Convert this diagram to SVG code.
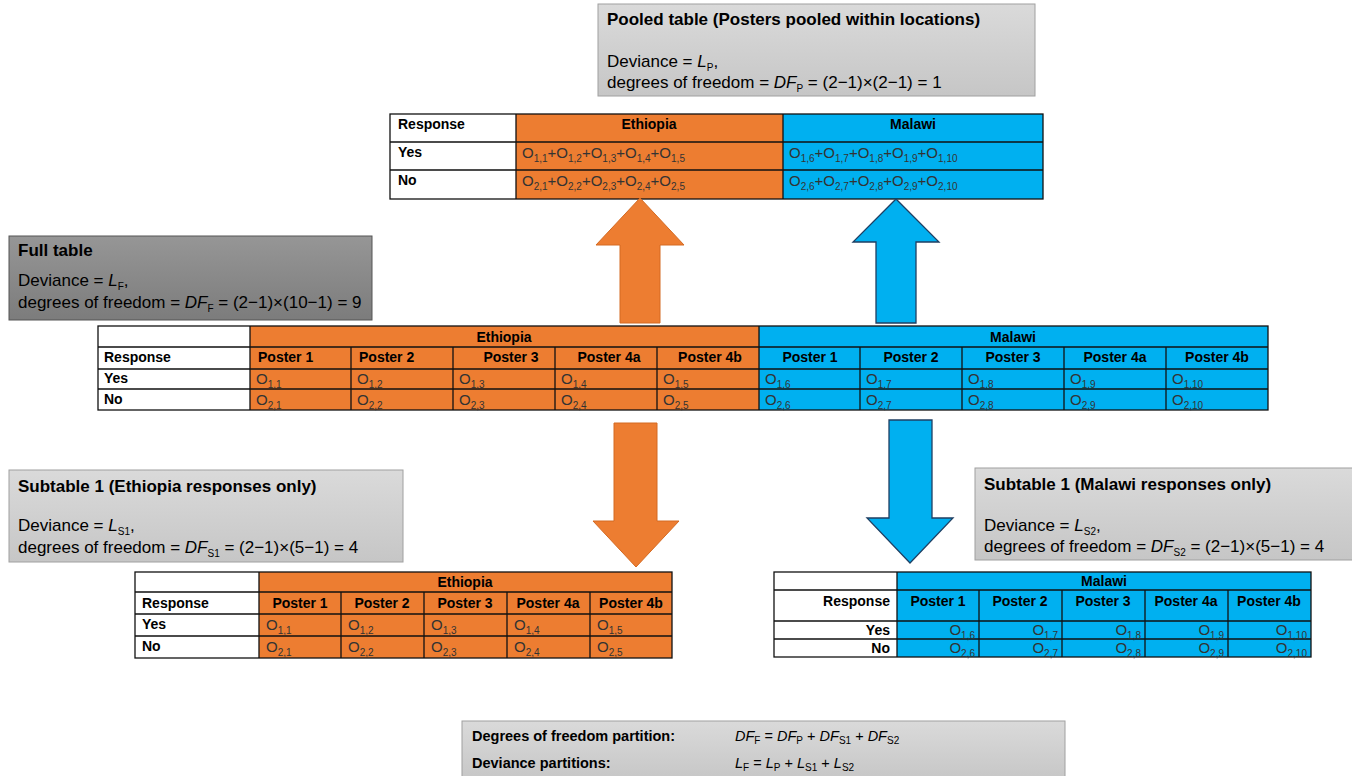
<svg xmlns="http://www.w3.org/2000/svg" width="1352" height="776" viewBox="0 0 1352 776">
<defs>
<linearGradient id="gLight" x1="0" y1="0" x2="0" y2="1"><stop offset="0" stop-color="#dadada"/><stop offset="1" stop-color="#c6c6c6"/></linearGradient>
<linearGradient id="gDark" x1="0" y1="0" x2="0" y2="1"><stop offset="0" stop-color="#969696"/><stop offset="1" stop-color="#7c7c7c"/></linearGradient>
</defs>
<style>
text{font-family:"Liberation Sans",Arial,sans-serif;fill:#000}
.t{font-size:17px;font-weight:bold}
.d{font-size:17px}
.h{font-size:14px;font-weight:bold}
.o{font-size:15px;fill:#333}
.s{font-size:10px}
.i{font-style:italic}
.c{text-anchor:middle}
.r{text-anchor:end}
.box{stroke:#a0a0a0;stroke-width:1}
.or{fill:#ED7D31}
.bl{fill:#00B0F0}
.wh{fill:#fff}
.ln{stroke:#111;stroke-width:1.3;fill:none}
.b{font-size:14.5px;font-weight:bold}
.bi{font-size:14.5px;font-style:italic}
</style>

<g id="pooled-box">
<rect x="598" y="4" width="437" height="92" fill="url(#gLight)" class="box"/>
<text class="t" x="607" y="25">Pooled table (Posters pooled within locations)</text>
<text class="d" x="607" y="67">Deviance = <tspan class="i">L</tspan><tspan class="s" dy="4">P</tspan><tspan dy="-4">,</tspan></text>
<text class="d" x="607" y="88">degrees of freedom = <tspan class="i">DF</tspan><tspan class="s" dy="4">P</tspan><tspan dy="-4"> = (2−1)×(2−1) = 1</tspan></text>
</g>

<g id="pooled-table">
<rect x="390" y="114" width="126" height="85" class="wh"/>
<rect x="516" y="114" width="267" height="85" class="or"/>
<rect x="783" y="114" width="260" height="85" class="bl"/>
<rect x="390" y="114" width="653" height="85" class="ln"/>
<path class="ln" d="M390 142H1043M390 170H1043M516 114V199M783 114V199"/>
<text class="h" x="398" y="129">Response</text>
<text class="h c" x="649" y="129">Ethiopia</text>
<text class="h c" x="913" y="129">Malawi</text>
<text class="h" x="398" y="157">Yes</text>
<text class="h" x="398" y="185">No</text>
<text class="o" x="522" y="158">O<tspan class="s" dy="4">1,1</tspan><tspan dy="-4">+O</tspan><tspan class="s" dy="4">1,2</tspan><tspan dy="-4">+O</tspan><tspan class="s" dy="4">1,3</tspan><tspan dy="-4">+O</tspan><tspan class="s" dy="4">1,4</tspan><tspan dy="-4">+O</tspan><tspan class="s" dy="4">1,5</tspan></text>
<text class="o" x="522" y="186">O<tspan class="s" dy="4">2,1</tspan><tspan dy="-4">+O</tspan><tspan class="s" dy="4">2,2</tspan><tspan dy="-4">+O</tspan><tspan class="s" dy="4">2,3</tspan><tspan dy="-4">+O</tspan><tspan class="s" dy="4">2,4</tspan><tspan dy="-4">+O</tspan><tspan class="s" dy="4">2,5</tspan></text>
<text class="o" x="789" y="158">O<tspan class="s" dy="4">1,6</tspan><tspan dy="-4">+O</tspan><tspan class="s" dy="4">1,7</tspan><tspan dy="-4">+O</tspan><tspan class="s" dy="4">1,8</tspan><tspan dy="-4">+O</tspan><tspan class="s" dy="4">1,9</tspan><tspan dy="-4">+O</tspan><tspan class="s" dy="4">1,10</tspan></text>
<text class="o" x="789" y="186">O<tspan class="s" dy="4">2,6</tspan><tspan dy="-4">+O</tspan><tspan class="s" dy="4">2,7</tspan><tspan dy="-4">+O</tspan><tspan class="s" dy="4">2,8</tspan><tspan dy="-4">+O</tspan><tspan class="s" dy="4">2,9</tspan><tspan dy="-4">+O</tspan><tspan class="s" dy="4">2,10</tspan></text>
</g>

<g id="full-box">
<rect x="9" y="236" width="363" height="84" fill="url(#gDark)" stroke="#555" stroke-width="1"/>
<text class="t" x="18" y="256">Full table</text>
<text class="d" x="18" y="286">Deviance = <tspan class="i">L</tspan><tspan class="s" dy="4">F</tspan><tspan dy="-4">,</tspan></text>
<text class="d" x="18" y="308">degrees of freedom = <tspan class="i">DF</tspan><tspan class="s" dy="4">F</tspan><tspan dy="-4"> = (2−1)×(10−1) = 9</tspan></text>
</g>

<g id="full-table">
<rect x="98" y="326" width="152" height="84" class="wh"/>
<rect x="250" y="326" width="509" height="84" class="or"/>
<rect x="759" y="326" width="509" height="84" class="bl"/>
<rect x="98" y="326" width="1170" height="84" class="ln"/>
<path class="ln" d="M98 347H1268M98 369H1268M98 389H1268M250 326V410M759 326V410M351 347V410M453 347V410M555 347V410M657 347V410M860 347V410M962 347V410M1064 347V410M1166 347V410"/>
<text class="h c" x="504" y="342">Ethiopia</text>
<text class="h c" x="1013" y="342">Malawi</text>
<text class="h" x="104" y="362">Response</text>
<text class="h" x="104" y="383">Yes</text>
<text class="h" x="104" y="404">No</text>
<text class="h" x="258" y="362">Poster 1</text>
<text class="h" x="359" y="362">Poster 2</text>
<text class="h c" x="511" y="362">Poster 3</text>
<text class="h c" x="609" y="362">Poster 4a</text>
<text class="h c" x="710" y="362">Poster 4b</text>
<text class="h c" x="810" y="362">Poster 1</text>
<text class="h c" x="911" y="362">Poster 2</text>
<text class="h c" x="1013" y="362">Poster 3</text>
<text class="h c" x="1115" y="362">Poster 4a</text>
<text class="h c" x="1217" y="362">Poster 4b</text>
<text class="o" x="256" y="384">O<tspan class="s" dy="4">1,1</tspan></text>
<text class="o" x="357" y="384">O<tspan class="s" dy="4">1,2</tspan></text>
<text class="o" x="459" y="384">O<tspan class="s" dy="4">1,3</tspan></text>
<text class="o" x="561" y="384">O<tspan class="s" dy="4">1,4</tspan></text>
<text class="o" x="663" y="384">O<tspan class="s" dy="4">1,5</tspan></text>
<text class="o" x="765" y="384">O<tspan class="s" dy="4">1,6</tspan></text>
<text class="o" x="866" y="384">O<tspan class="s" dy="4">1,7</tspan></text>
<text class="o" x="968" y="384">O<tspan class="s" dy="4">1,8</tspan></text>
<text class="o" x="1070" y="384">O<tspan class="s" dy="4">1,9</tspan></text>
<text class="o" x="1172" y="384">O<tspan class="s" dy="4">1,10</tspan></text>
<text class="o" x="256" y="405">O<tspan class="s" dy="4">2,1</tspan></text>
<text class="o" x="357" y="405">O<tspan class="s" dy="4">2,2</tspan></text>
<text class="o" x="459" y="405">O<tspan class="s" dy="4">2,3</tspan></text>
<text class="o" x="561" y="405">O<tspan class="s" dy="4">2,4</tspan></text>
<text class="o" x="663" y="405">O<tspan class="s" dy="4">2,5</tspan></text>
<text class="o" x="765" y="405">O<tspan class="s" dy="4">2,6</tspan></text>
<text class="o" x="866" y="405">O<tspan class="s" dy="4">2,7</tspan></text>
<text class="o" x="968" y="405">O<tspan class="s" dy="4">2,8</tspan></text>
<text class="o" x="1070" y="405">O<tspan class="s" dy="4">2,9</tspan></text>
<text class="o" x="1172" y="405">O<tspan class="s" dy="4">2,10</tspan></text>
</g>

<g id="sub1-box">
<rect x="9" y="470" width="394" height="92" fill="url(#gLight)" class="box"/>
<text class="t" x="18" y="492">Subtable 1 (Ethiopia responses only)</text>
<text class="d" x="18" y="531">Deviance = <tspan class="i">L</tspan><tspan class="s" dy="4">S1</tspan><tspan dy="-4">,</tspan></text>
<text class="d" x="18" y="553">degrees of freedom = <tspan class="i">DF</tspan><tspan class="s" dy="4">S1</tspan><tspan dy="-4"> = (2−1)×(5−1) = 4</tspan></text>
</g>

<g id="sub1-table">
<rect x="135" y="572" width="124" height="86" class="wh"/>
<rect x="259" y="572" width="413" height="86" class="or"/>
<rect x="135" y="572" width="537" height="86" class="ln"/>
<path class="ln" d="M135 592H672M135 614H672M135 636H672M259 572V658M341 592V658M424 592V658M507 592V658M590 592V658"/>
<text class="h c" x="465" y="587">Ethiopia</text>
<text class="h" x="142" y="608">Response</text>
<text class="h" x="142" y="629">Yes</text>
<text class="h" x="142" y="651">No</text>
<text class="h c" x="300" y="608">Poster 1</text>
<text class="h c" x="382" y="608">Poster 2</text>
<text class="h c" x="465" y="608">Poster 3</text>
<text class="h c" x="548" y="608">Poster 4a</text>
<text class="h c" x="631" y="608">Poster 4b</text>
<text class="o" x="266" y="630">O<tspan class="s" dy="4">1,1</tspan></text>
<text class="o" x="348" y="630">O<tspan class="s" dy="4">1,2</tspan></text>
<text class="o" x="431" y="630">O<tspan class="s" dy="4">1,3</tspan></text>
<text class="o" x="514" y="630">O<tspan class="s" dy="4">1,4</tspan></text>
<text class="o" x="597" y="630">O<tspan class="s" dy="4">1,5</tspan></text>
<text class="o" x="266" y="652">O<tspan class="s" dy="4">2,1</tspan></text>
<text class="o" x="348" y="652">O<tspan class="s" dy="4">2,2</tspan></text>
<text class="o" x="431" y="652">O<tspan class="s" dy="4">2,3</tspan></text>
<text class="o" x="514" y="652">O<tspan class="s" dy="4">2,4</tspan></text>
<text class="o" x="597" y="652">O<tspan class="s" dy="4">2,5</tspan></text>
</g>

<g id="sub2-box">
<rect x="975" y="468" width="380" height="92" fill="url(#gLight)" class="box"/>
<text class="t" x="984" y="490">Subtable 1 (Malawi responses only)</text>
<text class="d" x="984" y="531">Deviance = <tspan class="i">L</tspan><tspan class="s" dy="4">S2</tspan><tspan dy="-4">,</tspan></text>
<text class="d" x="984" y="552">degrees of freedom = <tspan class="i">DF</tspan><tspan class="s" dy="4">S2</tspan><tspan dy="-4"> = (2−1)×(5−1) = 4</tspan></text>
</g>

<g id="sub2-table">
<rect x="774" y="572" width="123" height="85" class="wh"/>
<rect x="897" y="572" width="414" height="85" class="bl"/>
<rect x="774" y="572" width="537" height="85" class="ln"/>
<path class="ln" d="M774 590H1311M774 621H1311M774 639H1311M897 572V657M979 590V657M1062 590V657M1145 590V657M1228 590V657"/>
<text class="h c" x="1104" y="586">Malawi</text>
<text class="h r" x="890" y="606">Response</text>
<text class="h r" x="890" y="635">Yes</text>
<text class="h r" x="890" y="653">No</text>
<text class="h c" x="938" y="606">Poster 1</text>
<text class="h c" x="1020" y="606">Poster 2</text>
<text class="h c" x="1103" y="606">Poster 3</text>
<text class="h c" x="1186" y="606">Poster 4a</text>
<text class="h c" x="1269" y="606">Poster 4b</text>
<text class="o r" x="975" y="635">O<tspan class="s" dy="4">1,6</tspan></text>
<text class="o r" x="1058" y="635">O<tspan class="s" dy="4">1,7</tspan></text>
<text class="o r" x="1141" y="635">O<tspan class="s" dy="4">1,8</tspan></text>
<text class="o r" x="1224" y="635">O<tspan class="s" dy="4">1,9</tspan></text>
<text class="o r" x="1307" y="635">O<tspan class="s" dy="4">1,10</tspan></text>
<text class="o r" x="975" y="653">O<tspan class="s" dy="4">2,6</tspan></text>
<text class="o r" x="1058" y="653">O<tspan class="s" dy="4">2,7</tspan></text>
<text class="o r" x="1141" y="653">O<tspan class="s" dy="4">2,8</tspan></text>
<text class="o r" x="1224" y="653">O<tspan class="s" dy="4">2,9</tspan></text>
<text class="o r" x="1307" y="653">O<tspan class="s" dy="4">2,10</tspan></text>
</g>

<g id="partition-box">
<rect x="462" y="721" width="603" height="60" fill="url(#gLight)" class="box"/>
<text class="b" x="472" y="741">Degrees of freedom partition:</text>
<text class="bi" x="735" y="741">DF<tspan class="s" dy="3" font-style="normal">F</tspan><tspan dy="-3" font-style="normal"> = </tspan>DF<tspan class="s" dy="3" font-style="normal">P</tspan><tspan dy="-3" font-style="normal"> + </tspan>DF<tspan class="s" dy="3" font-style="normal">S1</tspan><tspan dy="-3" font-style="normal"> + </tspan>DF<tspan class="s" dy="3" font-style="normal">S2</tspan></text>
<text class="b" x="472" y="768">Deviance partitions:</text>
<text class="bi" x="735" y="768">L<tspan class="s" dy="3" font-style="normal">F</tspan><tspan dy="-3" font-style="normal"> = </tspan>L<tspan class="s" dy="3" font-style="normal">P</tspan><tspan dy="-3" font-style="normal"> + </tspan>L<tspan class="s" dy="3" font-style="normal">S1</tspan><tspan dy="-3" font-style="normal"> + </tspan>L<tspan class="s" dy="3" font-style="normal">S2</tspan></text>
</g>

<g id="connectors">
<polygon points="620,323 620,245 596,245 640,198 684,245 660,245 660,323" fill="#ED7D31" stroke="#d46a22" stroke-width="1"/>
<polygon points="876,323 876,242 853,242 896,199 939,242 916,242 916,323" fill="#00B0F0" stroke="#1f3f63" stroke-width="1.3"/>
<polygon points="614,423 657,423 657,521 679,521 636,567 593,521 614,521" fill="#ED7D31" stroke="#d46a22" stroke-width="1"/>
<polygon points="889,420 932,420 932,518 953,518 910,563 867,518 889,518" fill="#00B0F0" stroke="#1f3f63" stroke-width="1.3"/>
</g>
</svg>
